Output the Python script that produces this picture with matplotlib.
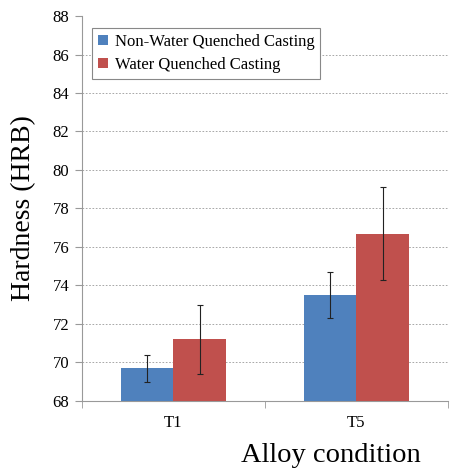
import numpy as np
import matplotlib
matplotlib.use('Agg')
import matplotlib.pyplot as plt

plt.rcParams['font.family'] = ['Liberation Serif', 'DejaVu Serif']

conditions = ['T1', 'T5']
series = ['Non-Water Quenched Casting', 'Water Quenched Casting']
hardness_nwq = [69.7, 73.5]
err_nwq = [0.7, 1.2]
hardness_wq = [71.2, 76.7]
err_wq = [1.8, 2.4]

colors = ['#4F81BD', '#C0504D']

fig = plt.figure(figsize=(4.59, 4.68), dpi=100)
ax = fig.add_axes([0.1786, 0.1432, 0.7974, 0.8226])

x = np.arange(len(conditions))
w = 0.285
ax.bar(x - w/2, hardness_nwq, width=w, color=colors[0], label=series[0], zorder=3)
ax.bar(x + w/2, hardness_wq, width=w, color=colors[1], label=series[1], zorder=3)
ax.errorbar(x - w/2, hardness_nwq, yerr=err_nwq, fmt='none', ecolor='#222222',
            elinewidth=0.8, capsize=2, capthick=0.8, zorder=4)
ax.errorbar(x + w/2, hardness_wq, yerr=err_wq, fmt='none', ecolor='#222222',
            elinewidth=0.8, capsize=2, capthick=0.8, zorder=4)

ax.set_ylim(68, 88)
ax.set_yticks(np.arange(68, 89, 2))
ax.set_xlim(-0.5, 1.5)
ax.set_xticks(x)
ax.set_xticklabels(conditions)
ax.set_xticks([-0.5, 0.5, 1.5], minor=True)
ax.tick_params(axis='x', which='major', length=0, labelsize=12, pad=10)
ax.tick_params(axis='x', which='minor', length=5, color='#999999')
ax.tick_params(axis='y', labelsize=12, length=5, color='#999999', pad=4)

for yv in np.arange(70, 87, 2):
    ax.axhline(yv, color='#999999', linestyle=(0, (2, 2)), linewidth=0.6, zorder=1)

for s in ['top', 'right']:
    ax.spines[s].set_visible(False)
for s in ['left', 'bottom']:
    ax.spines[s].set_color('#999999')
    ax.spines[s].set_linewidth(0.8)

ax.set_ylabel('Hardness (HRB)', fontsize=20)
ax.yaxis.set_label_coords(-0.125, 0.5)
ax.set_xlabel('Alloy condition', fontsize=20.5)
ax.xaxis.set_label_coords(0.68, -0.108)

leg = ax.legend(loc='upper left', bbox_to_anchor=(0.005, 0.99), fontsize=12,
                fancybox=False, framealpha=1, edgecolor='#888888',
                handlelength=0.6, handleheight=0.6, handletextpad=0.4,
                borderpad=0.35, labelspacing=0.4)
leg.get_frame().set_linewidth(0.8)

fig.savefig('out.png', dpi=100)
